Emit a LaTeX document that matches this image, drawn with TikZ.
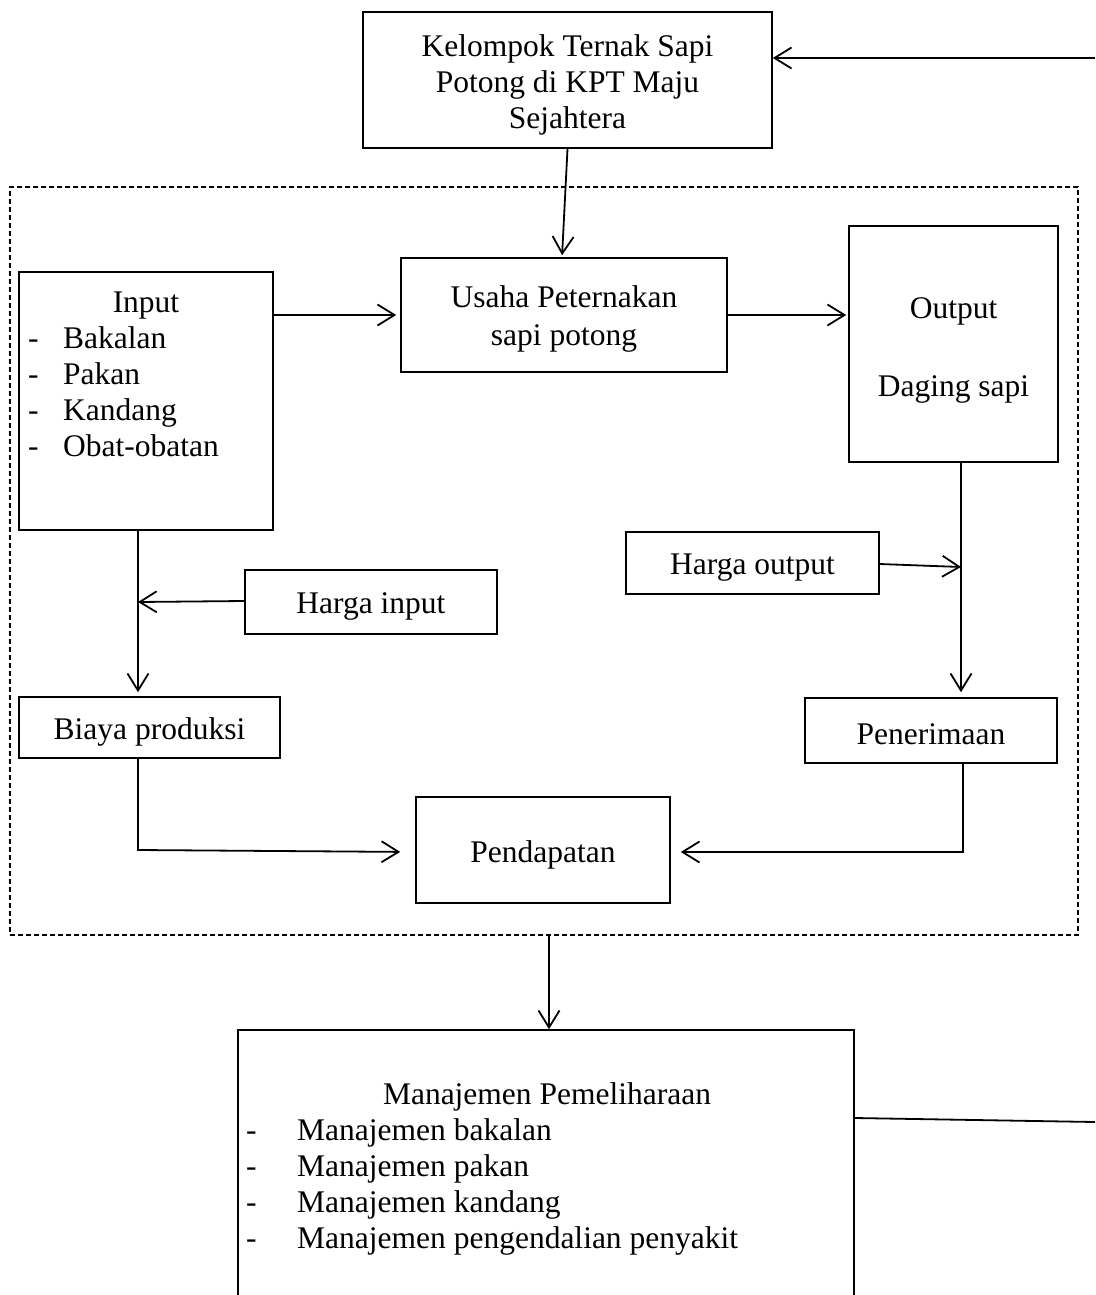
\documentclass[tikz,border=0pt]{standalone}
\usepackage{fontspec}
\setmainfont{Liberation Serif}
\usetikzlibrary{arrows.meta}
\begin{document}
\begin{tikzpicture}[x=1pt,y=-1pt,
  box/.style={draw, line width=1.6pt, inner sep=0pt},
  conn/.style={line width=1.8pt},
  arr/.style={conn, -{Straight Barb[length=17pt,width=21pt,line width=1.8pt]}},
  txt/.style={font=\fontsize{31.5}{36}\selectfont, inner sep=0pt, align=center},
  frame/.style={draw, line width=1.2pt, dash pattern=on 5pt off 3pt, inner sep=0pt}
]
\useasboundingbox (0,0) rectangle (1095,1295);
\clip (0,0) rectangle (1095,1295);

% boxes
\node[box, minimum width=409pt, minimum height=136pt] (kel) at (567.5,80) {};
\node[frame, minimum width=1068pt, minimum height=748pt] (fr) at (544,561) {};
\node[box, minimum width=326pt, minimum height=114pt] (usa) at (564,315) {};
\node[box, minimum width=254pt, minimum height=258pt] (inp) at (146,401) {};
\node[box, minimum width=209pt, minimum height=236pt] (out) at (953.5,344) {};
\node[box, minimum width=253pt, minimum height=62pt] (ho) at (752.5,563) {};
\node[box, minimum width=252pt, minimum height=64pt] (hi) at (371,602) {};
\node[box, minimum width=261pt, minimum height=61pt] (bia) at (149.5,727.5) {};
\node[box, minimum width=252pt, minimum height=65pt] (pen) at (931,730.5) {};
\node[box, minimum width=254pt, minimum height=106pt] (pend) at (543,850) {};
\node[box, minimum width=616pt, minimum height=290pt] (man) at (546,1175) {};

% box texts
\node[txt] (tkel) at ([yshift=-5pt]kel.center) {Kelompok Ternak Sapi\\Potong di KPT Maju\\Sejahtera};
\node[txt] (tusa) at ([yshift=-4pt]usa.center) {Usaha Peternakan\\[2pt]sapi potong};
\node[txt] (tho) at ([yshift=-5pt]ho.center) {Harga output};
\node[txt] (thi) at ([yshift=-4pt]hi.center) {Harga input};
\node[txt] (tbia) at ([yshift=-4pt]bia.center) {Biaya produksi};
\node[txt] (tpen) at ([yshift=-4pt]pen.center) {Penerimaan};
\node[txt] (tpend) at ([yshift=-5pt]pend.center) {Pendapatan};

% texts inside Input
\node[txt, anchor=base] (tin) at (146,312) {Input};
\node[txt, anchor=base west] (d1) at (28,348) {-};
\node[txt, anchor=base west] (i1) at (63,348) {Bakalan};
\node[txt, anchor=base west] (d2) at (28,384) {-};
\node[txt, anchor=base west] (i2) at (63,384) {Pakan};
\node[txt, anchor=base west] (d3) at (28,420) {-};
\node[txt, anchor=base west] (i3) at (63,420) {Kandang};
\node[txt, anchor=base west] (d4) at (28,456) {-};
\node[txt, anchor=base west] (i4) at (63,456) {Obat-obatan};

% texts inside Output
\node[txt, anchor=base] (tout) at (953.5,318) {Output};
\node[txt, anchor=base] (tdag) at (953.5,396) {Daging sapi};

% texts inside Manajemen
\node[txt, anchor=base] (tman) at (547,1104) {Manajemen Pemeliharaan};
\node[txt, anchor=base west] (m1d) at (246,1140) {-};
\node[txt, anchor=base west] (m1) at (297,1140) {Manajemen bakalan};
\node[txt, anchor=base west] (m2d) at (246,1176) {-};
\node[txt, anchor=base west] (m2) at (297,1176) {Manajemen pakan};
\node[txt, anchor=base west] (m3d) at (246,1212) {-};
\node[txt, anchor=base west] (m3) at (297,1212) {Manajemen kandang};
\node[txt, anchor=base west] (m4d) at (246,1248) {-};
\node[txt, anchor=base west] (m4) at (297,1248) {Manajemen pengendalian penyakit};

% coordinates
\coordinate (rtop) at (1095,58);
\coordinate (rbot) at (1095,1122);
\coordinate (oj) at (961,567);
\coordinate (ij) at (138,602);
\coordinate (pj) at (963,852);

% connectors
\draw[arr] (rtop) -- (rtop -| kel.east);
\draw[arr, shorten >=2pt] (kel.south) -- ([xshift=-2pt]usa.north);
\draw[arr, shorten >=4pt] (inp.east |- usa.west) -- (usa.west);
\draw[arr, shorten >=2pt] (usa.east) -- (usa.east -| out.west);
\draw[conn] (oj |- out.south) -- (oj);
\draw[arr, shorten >=5pt] (oj) -- (oj |- pen.north);
\draw[arr] ([yshift=-1pt]ho.east) -- (oj);
\draw[conn] (ij |- inp.south) -- (ij);
\draw[arr, shorten >=4pt] (ij) -- (ij |- bia.north);
\draw[arr] ([yshift=1pt]hi.west) -- (ij);
\draw[arr, shorten >=15pt] (ij |- bia.south) -- (ij |- pend.west) -- ([yshift=-2pt]pend.west);
\draw[arr, shorten >=10pt] (pj |- pen.south) -- (pj) -- (pj -| pend.east);
\draw[arr] ([xshift=5pt]fr.south) -- ([xshift=5pt]fr.south |- man.north);
\draw[conn] ([yshift=57pt]man.east) -- (rbot);
\end{tikzpicture}
\end{document}
